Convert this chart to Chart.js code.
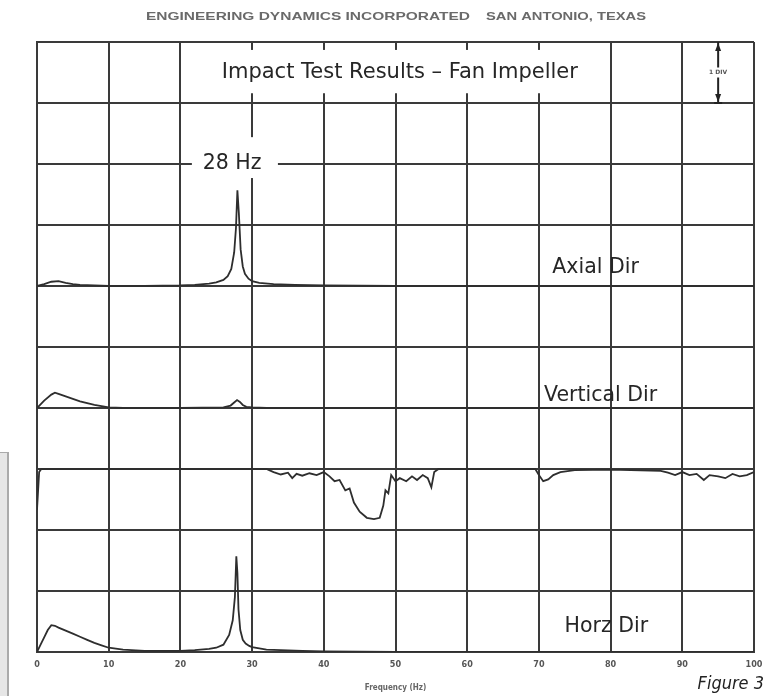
<!DOCTYPE html>
<html>
<head>
<meta charset="utf-8">
<script src="https://cdn.jsdelivr.net/npm/chart.js"></script>
<style>
  body { margin: 0; background: #fff; }
  #wrap { width: 779px; height: 696px; position: relative; }
</style>
</head>
<body>
<div id="wrap"><canvas id="impactChart"></canvas></div>
<script>
// IMPACT TEST - FAN IMPELLER (4 traces stacked on one grid, 1 div per unit)

// axial direction (amplitude in divisions above its baseline)
const axialHz  = [0, 1, 2, 3, 4, 5, 6, 8, 10, 15, 20, 22, 24, 25, 26, 26.6, 27.1, 27.5, 27.75, 27.95, 28.15, 28.4, 28.7, 29, 29.5, 30, 31, 33, 36, 40, 50, 60, 70, 80, 90, 100];
const axialAmp = [0, 0.03, 0.07, 0.08, 0.05, 0.03, 0.02, 0.01, 0, 0, 0.01, 0.02, 0.04, 0.06, 0.1, 0.16, 0.28, 0.55, 0.95, 1.57, 1.2, 0.6, 0.32, 0.2, 0.12, 0.08, 0.05, 0.03, 0.02, 0.01, 0, 0, 0, 0, 0, 0];

// vertical direction
const vertHz  = [0, 1, 2, 2.5, 3, 4, 5, 6, 7, 8, 9, 10, 12, 20, 26, 27, 27.5, 27.9, 28.3, 28.7, 29.2, 30, 32, 50, 100];
const vertAmp = [0, 0.12, 0.22, 0.25, 0.23, 0.19, 0.15, 0.11, 0.08, 0.05, 0.03, 0.01, 0, 0, 0.01, 0.04, 0.09, 0.13, 0.1, 0.05, 0.02, 0.01, 0, 0, 0];

// phase trace
const phaseHz  = [0, 0.3, 0.6, 10, 20, 32, 33, 34, 35, 35.6, 36.2, 37, 38, 39, 40, 40.8, 41.5, 42.2, 43, 43.6, 44.2, 45, 46, 47, 47.8, 48.3, 48.6, 49, 49.4, 50, 50.6, 51.5, 52.3, 53, 53.8, 54.5, 55, 55.4, 56, 60, 65, 69.5, 70, 70.6, 71.3, 72, 73, 75, 80, 87, 88, 89, 90, 91, 92, 93, 93.8, 95, 96, 97, 98, 99, 100];
const phaseVal = [-0.67, -0.05, 0, 0, 0, 0, -0.05, -0.09, -0.06, -0.15, -0.08, -0.11, -0.07, -0.1, -0.05, -0.12, -0.2, -0.18, -0.35, -0.32, -0.55, -0.7, -0.8, -0.82, -0.8, -0.6, -0.35, -0.4, -0.1, -0.2, -0.15, -0.2, -0.12, -0.18, -0.1, -0.15, -0.3, -0.05, 0, 0, 0, 0, -0.1, -0.2, -0.17, -0.1, -0.05, -0.02, -0.01, -0.03, -0.06, -0.1, -0.05, -0.1, -0.08, -0.18, -0.1, -0.12, -0.15, -0.08, -0.12, -0.1, -0.05];

// horizontal direction
const horzHz  = [0, 0.5, 1, 1.5, 2, 2.5, 3, 4, 5, 6, 7, 8, 9, 10, 12, 15, 18, 20, 22, 24, 25, 26, 26.8, 27.3, 27.6, 27.8, 27.95, 28.1, 28.35, 28.7, 29.1, 29.6, 30, 31, 32, 34, 37, 40, 50, 60, 70, 80, 90, 100];
const horzAmp = [0, 0.12, 0.24, 0.36, 0.44, 0.43, 0.4, 0.35, 0.3, 0.25, 0.2, 0.15, 0.11, 0.07, 0.04, 0.02, 0.02, 0.02, 0.03, 0.05, 0.07, 0.12, 0.28, 0.52, 0.9, 1.57, 1.3, 0.7, 0.36, 0.2, 0.14, 0.1, 0.08, 0.06, 0.04, 0.03, 0.02, 0.01, 0, 0, 0, 0, 0, 0];

const traceLabels = ['Axial Dir', 'Vertical Dir', 'Horz Dir'];

// baselines of each trace (grid divisions from bottom)
const AXIAL_BASE = 6;
const VERT_BASE = 4;
const PHASE_BASE = 3;
const HORZ_BASE = 0;

const INK = '#2e2e2e';
const GRID = '#3a3a3a';
const NARROW = '"DejaVu Sans Condensed", "Liberation Sans", sans-serif';

function toPoints(hz, vals, base) {
    return hz.map((f, i) => ({ x: f, y: base + vals[i] }));
}

function traceSet(label, pts) {
    return {
        label: label,
        data: pts,
        borderColor: INK,
        borderWidth: 1.8,
        pointRadius: 0,
        tension: 0,
        fill: false
    };
}

const data = {
    datasets: [
        traceSet('Axial', toPoints(axialHz, axialAmp, AXIAL_BASE)),
        traceSet('Vertical', toPoints(vertHz, vertAmp, VERT_BASE)),
        traceSet('Phase', toPoints(phaseHz, phaseVal, PHASE_BASE)),
        traceSet('Horz', toPoints(horzHz, horzAmp, HORZ_BASE))
    ]
};

// text, gaps in the grid, scale bar
const decor = {
    id: 'decor',
    beforeDatasetsDraw(chart) {
        const { ctx, scales: { x, y } } = chart;
        ctx.save();
        ctx.fillStyle = '#fff';
        // gap behind title
        ctx.fillRect(x.getPixelForValue(24.4), y.getPixelForValue(9.87),
            x.getPixelForValue(77) - x.getPixelForValue(24.4), y.getPixelForValue(9.16) - y.getPixelForValue(9.87));
        // gap behind 28 Hz
        ctx.fillRect(x.getPixelForValue(21.6), y.getPixelForValue(8.44),
            x.getPixelForValue(33.6) - x.getPixelForValue(21.6), y.getPixelForValue(7.77) - y.getPixelForValue(8.44));
        ctx.restore();
    },
    afterDraw(chart) {
        const { ctx, scales: { x, y } } = chart;
        ctx.save();
        ctx.fillStyle = '#262626';
        ctx.textBaseline = 'middle';
        ctx.textAlign = 'center';
        ctx.font = '21px "DejaVu Sans"';
        ctx.fillText('Impact Test Results \u2013 Fan Impeller', x.getPixelForValue(50.6), y.getPixelForValue(9.5));
        ctx.font = '20.5px "DejaVu Sans"';
        ctx.fillText('28 Hz', x.getPixelForValue(27.2), y.getPixelForValue(8));
        ctx.fillText(traceLabels[0], x.getPixelForValue(77.9), y.getPixelForValue(6.3));
        ctx.fillText(traceLabels[1], x.getPixelForValue(78.6), y.getPixelForValue(4.2));
        ctx.fillText(traceLabels[2], x.getPixelForValue(79.4), y.getPixelForValue(0.42));

        // 1 DIV scale bar
        const bx = x.getPixelForValue(95);
        const t = y.getPixelForValue(10), b = y.getPixelForValue(9);
        ctx.strokeStyle = '#222';
        ctx.lineWidth = 2;
        ctx.beginPath();
        ctx.moveTo(bx, t); ctx.lineTo(bx, b);
        ctx.moveTo(bx - 4, b); ctx.lineTo(bx + 4, b);
        ctx.stroke();
        ctx.fillStyle = '#222';
        ctx.beginPath();
        ctx.moveTo(bx, t + 1); ctx.lineTo(bx - 3, t + 9); ctx.lineTo(bx + 3, t + 9); ctx.fill();
        ctx.beginPath();
        ctx.moveTo(bx, b - 1); ctx.lineTo(bx - 3, b - 9); ctx.lineTo(bx + 3, b - 9); ctx.fill();
        ctx.fillStyle = '#fff';
        ctx.fillRect(bx - 11, (t + b) / 2 - 5, 22, 10);
        ctx.fillStyle = '#555';
        ctx.font = 'bold 6px "DejaVu Sans"';
        ctx.fillText('1 DIV', bx, (t + b) / 2);

        // header
        ctx.fillStyle = '#6a6a6a';
        ctx.font = 'bold 11px "Liberation Sans"';
        ctx.textAlign = 'left';
        const fit = (txt, x0, x1, yy) => {
            const w = ctx.measureText(txt).width;
            ctx.save();
            ctx.translate(x0, yy);
            ctx.scale((x1 - x0) / w, 1);
            ctx.fillText(txt, 0, 0);
            ctx.restore();
        };
        fit('ENGINEERING DYNAMICS INCORPORATED', 146, 470, 17);
        fit('SAN ANTONIO, TEXAS', 486, 646, 17);

        // figure caption
        ctx.fillStyle = '#222';
        ctx.font = 'italic 18px ' + NARROW;
        ctx.textAlign = 'right';
        ctx.fillText('Figure 3', 764, 684);

        // grey page edge at left
        ctx.fillStyle = '#e6e6e6';
        ctx.fillRect(0, 453, 7, 243);
        ctx.fillStyle = '#aaa';
        ctx.fillRect(7, 453, 2, 243);
        ctx.fillRect(0, 452, 9, 1);
        ctx.restore();
    }
};

const config = {
    type: 'line',
    data: data,
    options: {
        responsive: true,
        maintainAspectRatio: false,
        animation: false,
        layout: { padding: { left: 37, right: 25, top: 42, bottom: 0 } },
        plugins: {
            legend: { display: false },
            tooltip: { enabled: false }
        },
        scales: {
            x: {
                type: 'linear',
                min: 0,
                max: 100,
                ticks: {
                    stepSize: 10,
                    color: '#555',
                    padding: 7,
                    font: { family: 'DejaVu Sans Condensed', weight: 'bold', size: 9 }
                },
                grid: { color: GRID, lineWidth: 2, drawTicks: false },
                border: { color: GRID, width: 2 },
                title: {
                    display: true,
                    text: 'Frequency (Hz)',
                    color: '#666',
                    font: { family: 'DejaVu Sans Condensed', weight: 'bold', size: 8 },
                    padding: { top: 2, bottom: 3 }
                },
                afterFit: (s) => { s.height = 44; }
            },
            y: {
                min: 0,
                max: 10,
                ticks: { display: false, stepSize: 1 },
                grid: { color: GRID, lineWidth: 2, drawTicks: false },
                border: { color: GRID, width: 2 },
                afterFit: (s) => { s.width = 0; }
            }
        }
    },
    plugins: [decor]
};

const impactChart = new Chart(document.getElementById('impactChart'), config);
</script>
</body>
</html>
